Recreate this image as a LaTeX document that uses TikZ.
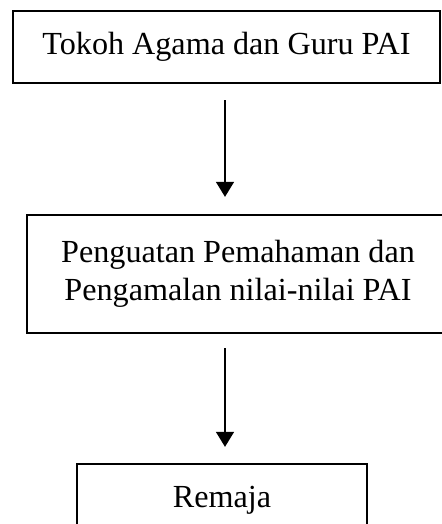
\documentclass[tikz,border=0pt]{standalone}
\usepackage{fontspec}
\setmainfont{Liberation Serif}
\usetikzlibrary{arrows.meta}
\begin{document}
\begin{tikzpicture}[
  box/.style={draw, line width=1.2pt, align=center, inner sep=0pt,
    font=\fontsize{18.3}{21.5}\selectfont},
  flow/.style={-{Triangle[width=0.35cm,length=0.3cm]}, line width=1.5pt}
]
\useasboundingbox (0,0) rectangle (8.84,10.48);
% Boxes
\node[box, minimum width=8.54cm, minimum height=1.44cm] (tokoh) at (4.53,9.54) {Tokoh Agama dan Guru PAI};
\node[box, minimum width=8.44cm, minimum height=2.36cm] (nilai) at (4.76,5.0) {Penguatan Pemahaman dan\\Pengamalan nilai-nilai PAI};
\node[box, minimum width=5.8cm, minimum height=1.44cm] (remaja) at (4.44,0.48) {Remaja};
% Arrows
\coordinate (ax) at (4.5,0);
\draw[flow, shorten <=0.32cm, shorten >=0.34cm] (tokoh.south -| ax) -- (nilai.north -| ax);
\draw[flow, shorten <=0.28cm, shorten >=0.32cm] (nilai.south -| ax) -- (remaja.north -| ax);
\end{tikzpicture}
\end{document}
